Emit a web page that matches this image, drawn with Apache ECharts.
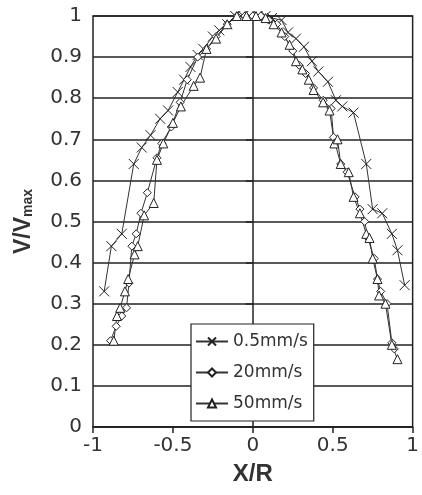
<!DOCTYPE html>
<html>
<head>
<meta charset="utf-8">
<script src="https://cdn.jsdelivr.net/npm/echarts@6/dist/echarts.min.js"></script>
<style>html,body{margin:0;padding:0;background:#fff;}#c{width:422px;height:495px;}</style>
</head>
<body>
<div id="c"></div>
<script>
var seriesNames = ['0.5mm/s', '20mm/s', '50mm/s'];
var xTickLabels = ['-1', '-0.5', '0', '0.5', '1'];
var yTickLabels = ['0', '0.1', '0.2', '0.3', '0.4', '0.5', '0.6', '0.7', '0.8', '0.9', '1'];

var x1 = [-0.93,-0.885,-0.82,-0.745,-0.695,-0.64,-0.58,-0.53,-0.47,-0.43,-0.39,-0.345,-0.31,-0.25,-0.21,-0.16,-0.11,-0.06,-0.02,0.03,0.08,0.12,0.18,0.22,0.27,0.32,0.37,0.41,0.47,0.52,0.56,0.63,0.71,0.75,0.81,0.87,0.905,0.95];
var y1 = [0.33,0.44,0.47,0.64,0.68,0.71,0.75,0.77,0.815,0.845,0.876,0.905,0.92,0.95,0.965,0.98,1.0,1.0,1.0,1.0,1.0,0.995,0.99,0.96,0.945,0.925,0.89,0.865,0.84,0.795,0.78,0.765,0.64,0.53,0.52,0.47,0.43,0.345];

var x2 = [-0.89,-0.855,-0.82,-0.79,-0.775,-0.757,-0.73,-0.70,-0.66,-0.60,-0.57,-0.51,-0.455,-0.41,-0.345,-0.29,-0.23,-0.16,-0.10,-0.05,0,0.05,0.10,0.15,0.20,0.25,0.29,0.33,0.38,0.44,0.49,0.505,0.55,0.59,0.64,0.67,0.70,0.72,0.76,0.78,0.80,0.84,0.87,0.885];
var y2 = [0.21,0.245,0.27,0.29,0.35,0.44,0.47,0.52,0.57,0.655,0.69,0.73,0.79,0.845,0.90,0.92,0.95,0.98,1.0,1.0,1.0,1.0,0.99,0.98,0.95,0.915,0.88,0.86,0.825,0.795,0.775,0.705,0.64,0.62,0.56,0.53,0.50,0.46,0.41,0.36,0.33,0.30,0.205,0.19];

var x3 = [-0.87,-0.85,-0.83,-0.80,-0.78,-0.74,-0.72,-0.68,-0.62,-0.60,-0.56,-0.50,-0.45,-0.37,-0.33,-0.29,-0.23,-0.16,-0.10,-0.04,0.02,0.08,0.13,0.18,0.23,0.27,0.31,0.35,0.38,0.44,0.48,0.51,0.53,0.55,0.60,0.63,0.67,0.71,0.73,0.75,0.78,0.79,0.83,0.87,0.905];
var y3 = [0.21,0.27,0.29,0.33,0.36,0.42,0.44,0.515,0.545,0.65,0.69,0.74,0.78,0.83,0.85,0.92,0.945,0.98,1.0,1.0,1.0,0.995,0.98,0.96,0.93,0.89,0.87,0.845,0.82,0.79,0.77,0.69,0.70,0.64,0.62,0.56,0.52,0.47,0.46,0.41,0.36,0.32,0.30,0.20,0.165];

function pairs(xs, ys) { return xs.map(function (x, i) { return [x, ys[i]]; }); }

var ink = '#222';
var crossPath = 'path://M0,0L10,10M10,0L0,10';

function mkSeries(name, data, symbol, size) {
  return {
    name: name, type: 'line', data: data,
    symbol: symbol, symbolSize: size, showSymbol: true,
    lineStyle: { color: '#333', width: 1 },
    itemStyle: { color: symbol === crossPath ? 'rgba(0,0,0,0)' : '#fff', borderColor: ink, borderWidth: 1 },
    emphasis: { disabled: true },
    animation: false
  };
}

var chart = echarts.init(document.getElementById('c'), null, { renderer: 'canvas' });
chart.setOption({
  backgroundColor: '#fff',
  animation: false,
  textStyle: { fontFamily: 'DejaVu Sans' },
  grid: { left: 93, right: 3, top: 16, bottom: 68, show: true, borderColor: ink, borderWidth: 1.5, containLabel: false },
  legend: {
    data: seriesNames,
    orient: 'vertical',
    left: 191, top: 324,
    backgroundColor: '#fff',
    borderColor: ink, borderWidth: 1.2,
    padding: [9, 6, 9, 4],
    itemGap: 14,
    itemWidth: 32, itemHeight: 10,
    textStyle: { fontSize: 17, color: '#333', fontFamily: 'DejaVu Sans' }
  },
  xAxis: {
    type: 'value', min: -1, max: 1, interval: 0.5,
    name: 'X/R', nameLocation: 'middle', nameGap: 35,
    nameTextStyle: { fontSize: 24, fontWeight: 'bold', color: '#333', fontFamily: 'Liberation Sans' },
    axisLine: { show: true, onZero: false, lineStyle: { color: ink, width: 1.5 } },
    axisTick: { show: true, inside: false, length: 6, lineStyle: { color: ink, width: 1.5 } },
    axisLabel: { fontSize: 20, color: '#333', margin: 9, formatter: function (v) { return xTickLabels[Math.round((v + 1) / 0.5)]; } },
    splitLine: { show: false }
  },
  yAxis: {
    type: 'value', min: 0, max: 1, interval: 0.1,
    name: '{a|V/V}{b|max}', nameLocation: 'middle', nameGap: 58, nameRotate: 90,
    nameTextStyle: {
      padding: [0, 0, 0, 0],
      rich: {
        a: { fontSize: 23, fontWeight: 'bold', color: '#333', fontFamily: 'Liberation Sans', verticalAlign: 'bottom', lineHeight: 26 },
        b: { fontSize: 14, fontWeight: 'bold', color: '#333', fontFamily: 'Liberation Sans', verticalAlign: 'bottom', lineHeight: 20 }
      }
    },
    axisLine: { show: true, lineStyle: { color: ink, width: 1.5 } },
    axisTick: { show: true, inside: false, length: 7, lineStyle: { color: ink, width: 1.5 } },
    axisLabel: { fontSize: 20, color: '#333', margin: 11, formatter: function (v) { return yTickLabels[Math.round(v * 10)]; } },
    splitLine: { show: true, lineStyle: { color: ink, width: 1.5 } }
  },
  series: [
    mkSeries(seriesNames[0], pairs(x1, y1), crossPath, 10),
    mkSeries(seriesNames[1], pairs(x2, y2), 'diamond', 8),
    mkSeries(seriesNames[2], pairs(x3, y3), 'triangle', 9)
  ]
});
</script>
</body>
</html>
